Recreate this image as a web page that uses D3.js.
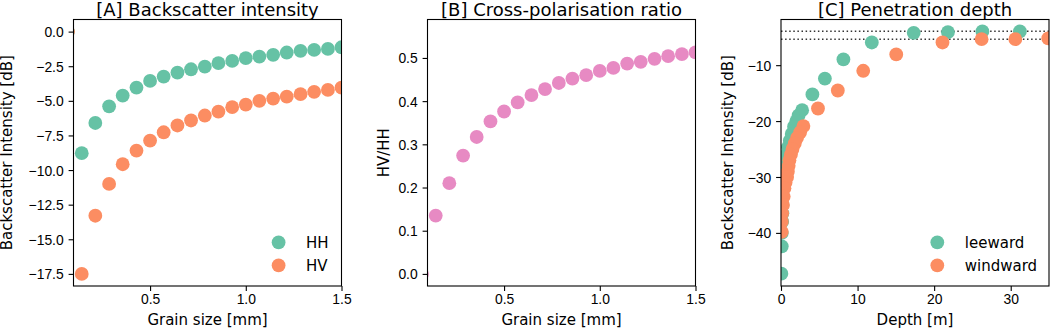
<!doctype html>
<html lang="en">
<head>
	<meta charset="utf-8">
	<title>Backscatter, polarisation ratio and penetration depth</title>
	<script src="https://cdn.jsdelivr.net/npm/d3@7"></script>
	<style>
		body { margin: 0; background: #fff; }
		svg { display: block; font-family: "DejaVu Sans", sans-serif; }
		.tick text { font-size: 13.9px; fill: #000; }
		.tick line { stroke: #000; stroke-width: 1.1; }
	</style>
</head>
<body>
	<svg id="fig" width="1050" height="328"></svg>
	<script>
		// panel A / B : grain size in mm
		var grainSize = [0.071, 0.143, 0.214, 0.286, 0.357, 0.429, 0.5, 0.571, 0.643, 0.714, 0.786,
			0.857, 0.929, 1.0, 1.071, 1.143, 1.214, 1.286, 1.357, 1.429, 1.5];
		var hhDb = [0, -8.78, -6.6, -5.4, -4.62, -4.04, -3.56, -3.25, -2.96, -2.72, -2.53,
			-2.28, -2.12, -1.92, -1.8, -1.68, -1.51, -1.39, -1.32, -1.25, -1.13];
		var hvDb = [0, -17.5, -13.3, -11.0, -9.58, -8.59, -7.87, -7.27, -6.78, -6.42, -6.06,
			-5.78, -5.46, -5.27, -5.0, -4.84, -4.69, -4.52, -4.35, -4.21, -4.04];
		var crossRatio = [0, 0.135, 0.21, 0.274, 0.317, 0.353, 0.376, 0.397, 0.414, 0.428, 0.442,
			0.452, 0.46, 0.47, 0.477, 0.487, 0.491, 0.498, 0.504, 0.509, 0.513];

		// panel C : depth in m vs backscatter in dB
		var leewardDepth = [31.2, 26.3, 21.8, 17.33, 11.86, 8.15, 5.73, 4.1, 2.76, 2.3, 2.0, 1.7, 1.4,
			1.15, 0.9, 0.7, 0.55, 0.45, 0.35, 0.3, 0.25, 0.2, 0.18, 0.15, 0.1, 0.1, 0.05];
		var leewardDb = [-3.97, -3.97, -4.1, -4.22, -5.94, -8.98, -12.4, -15.24, -18.05, -19, -20, -21, -22.3,
			-23.5, -24.7, -26, -27.5, -29, -30.5, -32, -33.5, -35, -36.5, -38, -40, -42.4, -47.3];
		var windwardDepth = [34.9, 30.6, 26.2, 21.09, 15.05, 10.74, 7.42, 4.83, 2.93, 2.5, 2.1, 1.8, 1.5,
			1.3, 1.1, 1.0, 0.9, 0.8, 0.6, 0.45, 0.35, 0.25, 0.15, 0.1, 0.1];
		var windwardDb = [-5.22, -5.35, -5.35, -5.94, -8.08, -11.0, -14.53, -17.75, -20.9, -22, -23, -24, -25,
			-26, -27, -28, -29, -30, -31, -32, -33.5, -35, -36.5, -38, -39.8];
		var plateauDb = [-3.92, -5.35];

		var green = "#66c2a5", orange = "#fc8d62", pink = "#e78ac3";
		var svg = d3.select("#fig");
		var plotTop = 19.5, h = 266.5, w = 268;

		function zip(xs, ys) { return xs.map(function(x, i) { return [x, ys[i]]; }); }

		function panel(cfg) {
			var x = d3.scaleLinear().domain(cfg.xDomain).range([cfg.left, cfg.left + w]);
			var y = d3.scaleLinear().domain(cfg.yDomain).range([plotTop + h, plotTop]);
			var g = svg.append("g");

			var clipId = "clip" + cfg.id;
			g.append("clipPath").attr("id", clipId).append("rect")
				.attr("x", cfg.left).attr("y", plotTop).attr("width", w).attr("height", h);

			var xAxis = d3.axisBottom(x).tickValues(cfg.xTicks).tickFormat(d3.format(cfg.xFmt))
				.tickSizeOuter(0).tickSizeInner(4.9).tickPadding(3.2);
			var gx = g.append("g").attr("transform", "translate(0," + (plotTop + h) + ")").call(xAxis);
			gx.select(".domain").remove();

			var yAxis = d3.axisLeft(y).tickValues(cfg.yTicks).tickFormat(d3.format(cfg.yFmt))
				.tickSizeOuter(0).tickSizeInner(4.9).tickPadding(4.9);
			var gy = g.append("g").attr("transform", "translate(" + cfg.left + ",0)").call(yAxis);
			gy.select(".domain").remove();
			gy.selectAll(".tick text").attr("dy", "0.36em");

			var plot = g.append("g").attr("clip-path", "url(#" + clipId + ")");

			(cfg.hlines || []).forEach(function(v) {
				plot.append("line")
					.attr("x1", cfg.left).attr("x2", cfg.left + w)
					.attr("y1", y(v)).attr("y2", y(v))
					.attr("stroke", "#333").attr("stroke-width", 1.5)
					.attr("stroke-dasharray", "1.5,2.6");
			});

			cfg.series.forEach(function(s) {
				plot.selectAll(null).data(s.points).enter().append("circle")
					.attr("cx", function(d) { return x(d[0]); })
					.attr("cy", function(d) { return y(d[1]); })
					.attr("r", 6.9)
					.attr("fill", s.color);
			});

			g.append("rect")
				.attr("x", cfg.left).attr("y", plotTop).attr("width", w).attr("height", h)
				.attr("fill", "none").attr("stroke", "#000").attr("stroke-width", 1.1);

			g.append("text")
				.attr("x", cfg.left + w / 2).attr("y", 15.7)
				.attr("text-anchor", "middle").style("font-size", "18px")
				.text(cfg.title);
			g.append("text")
				.attr("x", cfg.left + w / 2).attr("y", 325)
				.attr("text-anchor", "middle").style("font-size", "15px")
				.text(cfg.xLabel);
			g.append("text")
				.attr("transform", "translate(" + cfg.yLabelX + "," + (plotTop + h / 2) + ") rotate(-90)")
				.attr("text-anchor", "middle").style("font-size", "15px")
				.text(cfg.yLabel);

			// legend, no frame
			if (cfg.legend) {
				cfg.series.forEach(function(s, i) {
					var ly = 242.3 + i * 23;
					g.append("circle").attr("cx", cfg.legend.x).attr("cy", ly).attr("r", 6.9).attr("fill", s.color);
					g.append("text").attr("x", cfg.legend.x + 27.5).attr("y", ly + 5.3)
						.style("font-size", "15px").text(s.name);
				});
			}
		}

		panel({
			id: "A", left: 73.5,
			xDomain: [0.1, 1.5], yDomain: [-18.375, 0.875],
			xTicks: [0.5, 1.0, 1.5], xFmt: ".1f",
			yTicks: [0, -2.5, -5, -7.5, -10, -12.5, -15, -17.5], yFmt: ".1f",
			title: "[A] Backscatter intensity", xLabel: "Grain size [mm]",
			yLabel: "Backscatter Intensity [dB]", yLabelX: 11.5,
			series: [
				{ name: "HH", color: green, points: zip(grainSize, hhDb) },
				{ name: "HV", color: orange, points: zip(grainSize, hvDb) }
			],
			legend: { x: 278.6 }
		});

		panel({
			id: "B", left: 427.5,
			xDomain: [0.1, 1.5], yDomain: [-0.028, 0.589],
			xTicks: [0.5, 1.0, 1.5], xFmt: ".1f",
			yTicks: [0, 0.1, 0.2, 0.3, 0.4, 0.5], yFmt: ".1f",
			title: "[B] Cross-polarisation ratio", xLabel: "Grain size [mm]",
			yLabel: "HV/HH", yLabelX: 389,
			series: [
				{ name: "HV/HH", color: pink, points: zip(grainSize, crossRatio) }
			]
		});

		panel({
			id: "C", left: 781,
			xDomain: [0, 35], yDomain: [-49.5, -1.83],
			xTicks: [0, 10, 20, 30], xFmt: "d",
			yTicks: [-10, -20, -30, -40], yFmt: "d",
			title: "[C] Penetration depth", xLabel: "Depth [m]",
			yLabel: "Backscatter Intensity [dB]", yLabelX: 733,
			hlines: plateauDb,
			series: [
				{ name: "leeward", color: green, points: zip(leewardDepth, leewardDb) },
				{ name: "windward", color: orange, points: zip(windwardDepth, windwardDb) }
			],
			legend: { x: 937.3 }
		});
	</script>
</body>
</html>
